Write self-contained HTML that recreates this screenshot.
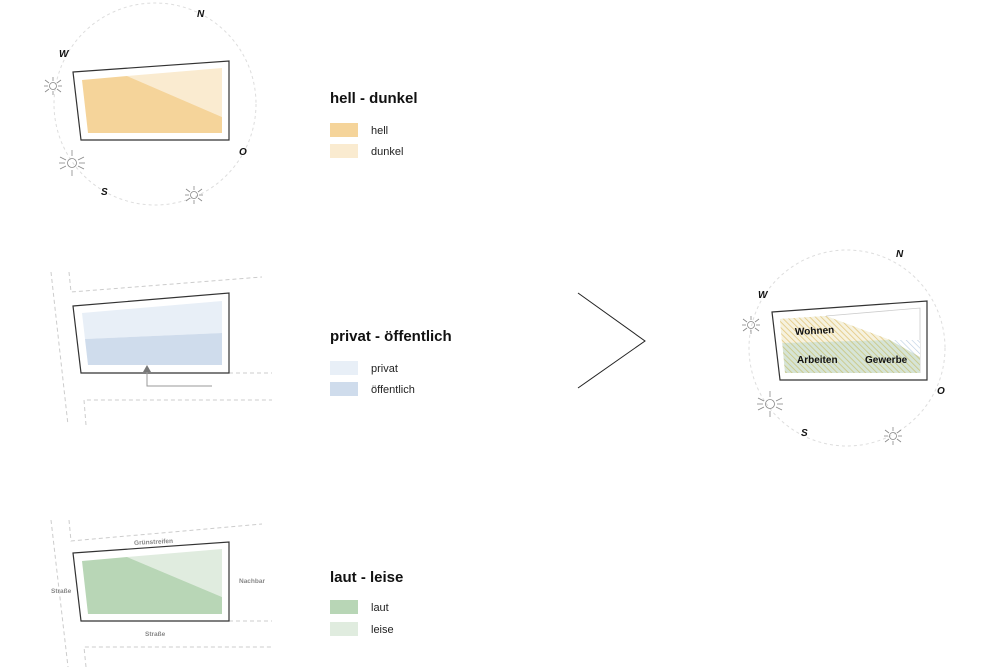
<!DOCTYPE html>
<html><head><meta charset="utf-8"><style>
body{margin:0;background:#fff;}
svg{display:block;font-family:"Liberation Sans",sans-serif;}
</style></head><body>
<svg width="1000" height="667" viewBox="0 0 1000 667" xmlns="http://www.w3.org/2000/svg">
<defs>
<pattern id="hy" width="4" height="4" patternUnits="userSpaceOnUse" patternTransform="rotate(-45)">
<rect width="4" height="4" fill="#f6f2df"/><line x1="0" y1="0" x2="0" y2="4" stroke="#e3c77e" stroke-width="1.6"/></pattern>
<pattern id="hg" width="4" height="4" patternUnits="userSpaceOnUse" patternTransform="rotate(-45)">
<rect width="4" height="4" fill="#d6e4d6"/><line x1="0" y1="0" x2="0" y2="4" stroke="#c9c57f" stroke-width="1.6"/></pattern>
<pattern id="hb" width="4" height="4" patternUnits="userSpaceOnUse" patternTransform="rotate(-45)">
<rect width="4" height="4" fill="#fff"/><line x1="0" y1="0" x2="0" y2="4" stroke="#b9cde2" stroke-width="1.2"/></pattern>
<g id="sunS" stroke="#888" stroke-width="0.8" fill="none">
<circle r="3.5"/><line x1="0" y1="-5" x2="0" y2="-9"/><line x1="0" y1="5" x2="0" y2="9"/><line x1="-5" y1="0" x2="-9" y2="0"/><line x1="5" y1="0" x2="9" y2="0"/><line x1="4" y1="-3" x2="8" y2="-6"/><line x1="-4" y1="3" x2="-8" y2="6"/><line x1="-4" y1="-3" x2="-8" y2="-6"/><line x1="4" y1="3" x2="8" y2="6"/></g>
<g id="sunL" stroke="#888" stroke-width="0.8" fill="none">
<circle r="4.5"/><line x1="0" y1="-7" x2="0" y2="-13"/><line x1="0" y1="7" x2="0" y2="13"/><line x1="-7" y1="0" x2="-13" y2="0"/><line x1="7" y1="0" x2="13" y2="0"/><line x1="6" y1="-3" x2="12" y2="-6"/><line x1="-6" y1="3" x2="-12" y2="6"/><line x1="-6" y1="-3" x2="-12" y2="-6"/><line x1="6" y1="3" x2="12" y2="6"/></g>
</defs>

<!-- top block -->
<circle cx="155" cy="104" r="101" fill="none" stroke="#ddd" stroke-dasharray="3,3"/>
<polygon points="73,72 229,61 229,140 81,140" fill="#fff" stroke="#333" stroke-width="1.2"/>
<polygon points="127,76 222,68 222,117" fill="#faebd0"/>
<polygon points="82,80 127,76 222,117 222,133 88,133" fill="#f5d49a"/>
<g font-weight="bold" font-style="italic" font-size="10" fill="#111">
<text x="197" y="17">N</text><text x="59" y="57">W</text><text x="239" y="155">O</text><text x="101" y="195">S</text></g>
<use href="#sunS" x="53" y="86"/><use href="#sunL" x="72" y="163"/><use href="#sunS" x="194" y="195"/>
<text x="330" y="103" font-size="15" font-weight="bold" fill="#111">hell - dunkel</text>
<rect x="330" y="123" width="28" height="14" fill="#f5d49a"/><text x="371" y="134" font-size="11" fill="#222">hell</text>
<rect x="330" y="144" width="28" height="14" fill="#faebd0"/><text x="371" y="155" font-size="11" fill="#222">dunkel</text>

<!-- middle block -->
<g stroke="#ccc" stroke-dasharray="4,3" fill="none">
<polyline points="69,272 71,292 262,277"/><line x1="51" y1="272" x2="68" y2="425"/>
<line x1="229" y1="373" x2="272" y2="373"/><polyline points="86,425 84,400 272,400"/></g>
<polygon points="73,306 229,293 229,373 81,373" fill="#fff" stroke="#333" stroke-width="1.2"/>
<polygon points="82,313 222,301 222,333 85,339" fill="#e8eff7"/>
<polygon points="85,339 222,333 222,365 88,365" fill="#cfdcec"/>
<polyline points="147,371 147,386 212,386" fill="none" stroke="#999"/>
<polygon points="147,365 143,372 151,372" fill="#777"/>
<text x="330" y="341" font-size="15" font-weight="bold" fill="#111">privat - öffentlich</text>
<rect x="330" y="361" width="28" height="14" fill="#e8eff7"/><text x="371" y="372" font-size="11" fill="#222">privat</text>
<rect x="330" y="382" width="28" height="14" fill="#cfdcec"/><text x="371" y="393" font-size="11" fill="#222">öffentlich</text>

<!-- bottom block -->
<g stroke="#ccc" stroke-dasharray="4,3" fill="none">
<polyline points="69,520 71,541 262,524"/><line x1="51" y1="520" x2="68" y2="667"/>
<line x1="229" y1="621" x2="272" y2="621"/><polyline points="86,667 84,647 272,647"/></g>
<polygon points="73,553 229,542 229,621 81,621" fill="#fff" stroke="#333" stroke-width="1.2"/>
<polygon points="127,557 222,549 222,597" fill="#e0ecdf"/>
<polygon points="82,561 127,557 222,597 222,614 88,614" fill="#b8d6b6"/>
<g font-size="6.5" font-weight="bold" fill="#888">
<text x="134" y="544" transform="rotate(-3 152 541)">Grünstreifen</text>
<text x="51" y="593">Straße</text><text x="239" y="583">Nachbar</text><text x="145" y="636">Straße</text></g>
<text x="330" y="582" font-size="15" font-weight="bold" fill="#111">laut - leise</text>
<rect x="330" y="600" width="28" height="14" fill="#b8d6b6"/><text x="371" y="611" font-size="11" fill="#222">laut</text>
<rect x="330" y="622" width="28" height="14" fill="#e0ecdf"/><text x="371" y="633" font-size="11" fill="#222">leise</text>

<!-- chevron -->
<polyline points="578,293 645,341 578,388" fill="none" stroke="#222" stroke-width="1"/>

<!-- right result -->
<circle cx="847" cy="348" r="98" fill="none" stroke="#ddd" stroke-dasharray="3,3"/>
<polygon points="772,312 927,301 927,380 780,380" fill="#fff" stroke="#333" stroke-width="1.2"/>
<polyline points="826,316 920,308 920,373" fill="none" stroke="#ccc" stroke-width="0.8"/>
<polygon points="780,319 826,316 890,340 920,340 920,373 785,373" fill="url(#hg)"/>
<polygon points="780,319 826,316 890,340 782,343" fill="url(#hy)"/>
<polygon points="890,340 920,340 920,357" fill="url(#hb)"/>
<g font-size="10" font-weight="bold" fill="#111">
<text x="795" y="334" transform="rotate(-3 815 331)">Wohnen</text>
<text x="797" y="363">Arbeiten</text><text x="865" y="363">Gewerbe</text></g>
<g font-weight="bold" font-style="italic" font-size="10" fill="#111">
<text x="896" y="257">N</text><text x="758" y="298">W</text><text x="937" y="394">O</text><text x="801" y="436">S</text></g>
<use href="#sunS" x="751" y="325"/><use href="#sunL" x="770" y="404"/><use href="#sunS" x="893" y="436"/>
</svg>
</body></html>
